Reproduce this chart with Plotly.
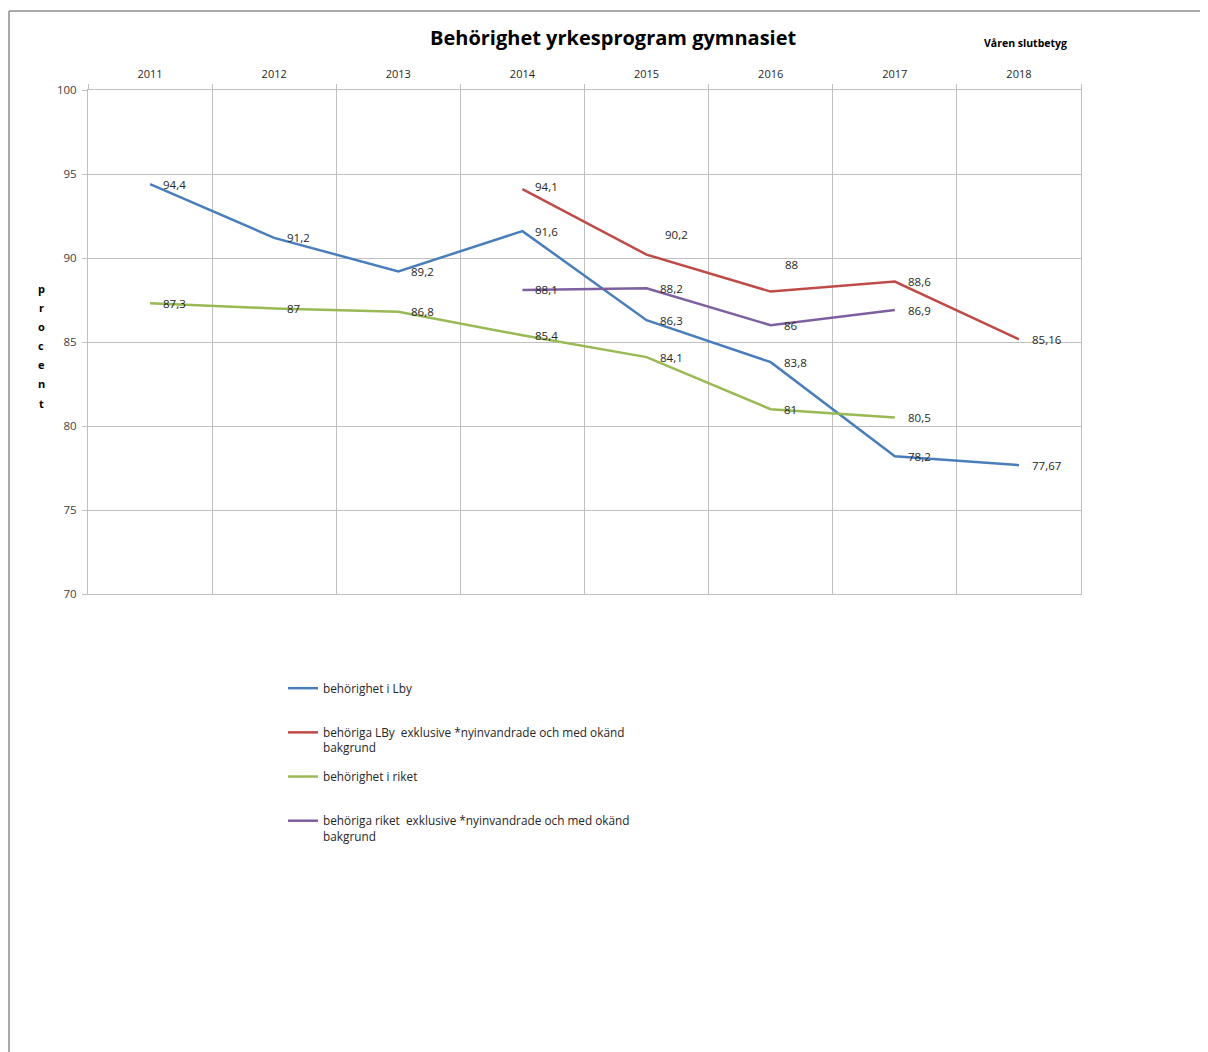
import plotly.graph_objects as go

# --- data ---
years = ["2011", "2012", "2013", "2014", "2015", "2016", "2017", "2018"]
lby = [94.4, 91.2, 89.2, 91.6, 86.3, 83.8, 78.2, 77.67]
lby_excl = [None, None, None, 94.1, 90.2, 88.0, 88.6, 85.16]
riket = [87.3, 87.0, 86.8, 85.4, 84.1, 81.0, 80.5, None]
riket_excl = [None, None, None, 88.1, 88.2, 86.0, 86.9, None]

names = [
    "behörighet i Lby",
    "behöriga LBy  exklusive *nyinvandrade och med okänd<br>bakgrund",
    "behörighet i riket",
    "behöriga riket  exklusive *nyinvandrade och med okänd<br>bakgrund",
]
series = [lby, lby_excl, riket, riket_excl]
colors = ["#4A7EBB", "#BE4B48", "#98B954", "#7D60A0"]

# label offsets (style only): (series index, year index) -> (xshift, yshift)
label_shift = {(1, 3): (11, 3), (1, 4): (16, 20), (1, 5): (12, 27)}

# page offset (body margin) and plot area in page pixels
OFF = 8
PL, PR, PT, PB = 88 - OFF, 1081 - OFF, 90 - OFF, 594 - OFF
W, H = 1200, 1044


def px_x(x):
    return (x - OFF - PL) / (PR - PL)


def px_y(y):
    return (PB - (y - OFF)) / (PB - PT)


fig = go.Figure()
for i, (name, vals, col) in enumerate(zip(names, series, colors)):
    label = name if "<br>" in name else name + "<br> "
    fig.add_trace(go.Scatter(
        x=years, y=vals, mode="lines", name=label,
        line=dict(color=col, width=2.5),
        connectgaps=False, legendgroup=str(i), hoverinfo="skip",
    ))
    for j, v in enumerate(vals):
        if v is None:
            continue
        dx, dy = label_shift.get((i, j), (11, 0))
        fig.add_annotation(
            x=j, y=v, text=f"{v:g}".replace(".", ","),
            showarrow=False, xanchor="left", yanchor="middle",
            xshift=dx, yshift=dy,
            font=dict(family="Open Sans", size=11.5, color="#262626"),
        )

# title and side texts
fig.add_annotation(
    xref="paper", yref="paper", x=px_x(613), y=px_y(38),
    text="<b>Behörighet yrkesprogram gymnasiet</b>", showarrow=False,
    xanchor="center", yanchor="middle",
    font=dict(family="Open Sans", size=20, color="#000000"),
)
fig.add_annotation(
    xref="paper", yref="paper", x=px_x(1025), y=px_y(43),
    text="<b>Våren slutbetyg</b>", showarrow=False,
    xanchor="center", yanchor="middle",
    font=dict(family="Open Sans", size=10.5, color="#000000"),
)
for k, ch in enumerate("procent"):
    fig.add_annotation(
        xref="paper", yref="paper", x=px_x(41), y=px_y(288 + k * 19.2),
        text=f"<b>{ch}</b>", showarrow=False,
        xanchor="center", yanchor="middle",
        font=dict(family="Open Sans", size=11, color="#000000"),
    )

# outer frame (left and top edges)
frame = dict(type="line", xref="paper", yref="paper",
             line=dict(color="#8C8C8C", width=1.5))
fig.add_shape(**frame, x0=px_x(9), y0=px_y(11), x1=px_x(9), y1=px_y(H + 20))
fig.add_shape(**frame, x0=px_x(9), y0=px_y(11), x1=px_x(W + 20), y1=px_y(11))

fig.update_layout(
    width=W, height=H,
    margin=dict(l=PL, r=W - PR, t=PT, b=H - PB),
    paper_bgcolor="white", plot_bgcolor="white",
    font=dict(family="Open Sans", size=11, color="#404040"),
    showlegend=True,
    legend=dict(
        x=px_x(283), y=px_y(674), xanchor="left", yanchor="top",
        tracegroupgap=10.5, valign="top", bgcolor="rgba(0,0,0,0)",
        font=dict(family="Open Sans", size=11.8, color="#262626"),
        itemwidth=30,
    ),
)
fig.update_xaxes(
    type="category", side="top", tickson="boundaries",
    range=[-0.5, len(years) - 0.5],
    showgrid=True, gridcolor="#BFBFBF", gridwidth=1,
    showline=True, linecolor="#BFBFBF", mirror=True,
    ticks="outside", ticklen=5, tickcolor="#BFBFBF",
    ticklabelstandoff=7,
    tickfont=dict(size=11, color="#262626"),
)
fig.update_yaxes(
    range=[70, 100], dtick=5,
    showgrid=True, gridcolor="#BFBFBF", gridwidth=1,
    showline=True, linecolor="#BFBFBF", mirror=True,
    ticks="outside", ticklen=5, tickcolor="#BFBFBF",
    ticklabelstandoff=3,
    tickfont=dict(size=11.5, color="#404040"), zeroline=False,
)

fig.write_html("out.html")
